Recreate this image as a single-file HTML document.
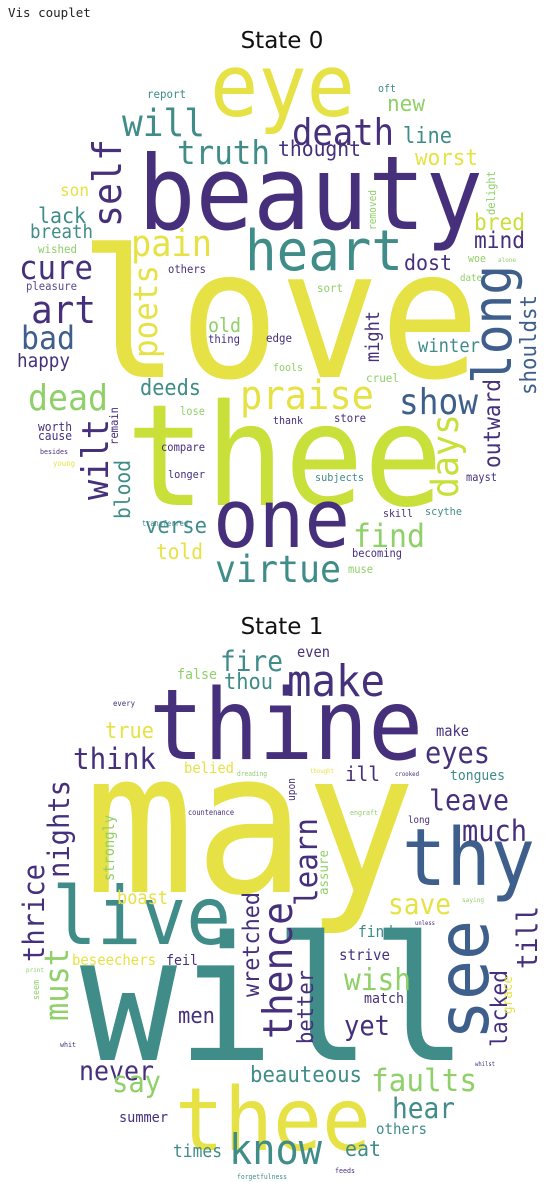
<!DOCTYPE html>
<html><head><meta charset="utf-8">
<style>
html,body{margin:0;padding:0;background:#fff;}
body{width:546px;height:1182px;overflow:hidden;position:relative;}
.hdr{position:absolute;left:8px;top:5px;font-family:"DejaVu Sans Mono","Liberation Mono",monospace;font-size:12.5px;color:#222;}
svg{position:absolute;left:0;top:0;}
</style></head>
<body>
<div class="hdr">Vis couplet</div>
<svg id="svg" width="546" height="1182" viewBox="0 0 546 1182">
<text x="282" y="48" text-anchor="middle" font-family="DejaVu Sans, sans-serif" font-size="23" fill="#111">State 0</text>
<text x="282" y="634" text-anchor="middle" font-family="DejaVu Sans, sans-serif" font-size="23" fill="#111">State 1</text>
<g id="c0"></g>
<g id="c1"></g>
</svg>
<script>
const palette = {Y:'#e6e245',L:'#c9df3a',G:'#8fd068',T:'#3f8c89',P:'#46307c',B:'#3e5f8c',D:'#5a4a8c'};
// [word, colour, x, y, length, rotated]  horizontal: x=left,y=baseline ; rotated: x=baseline,y=bottom
const cloud0 = [
['love','Y',79,377,401,0],['beauty','P',138,229,345,0],['eye','Y',210,116,145,0],
['thee','L',126,505,317,0],['one','P',213,547,137,0],['virtue','T',215,582,126,0],
['heart','T',245,270,158,0],['death','P',292,145,102,0],['will','T',122,136,83,0],
['truth','T',177,164,93,0],['thought','P',278,156,83,0],['new','G',387,111,38,0],
['line','T',403,143,49,0],['worst','Y',415,165,63,0],['oft','T',378,92,18,0],
['report','T',147,98,39,0],['self','P',121,227,88,1],['son','Y',60,196,29,0],
['lack','T',38,223,48,0],['breath','T',30,238,63,0],['pain','Y',131,256,81,0],
['cure','P',19,279,74,0],['art','P',31,323,65,0],['bad','B',21,349,54,0],
['happy','P',17,367,53,0],['pleasure','D',26,290,51,0],['poets','Y',157,358,93,1],
['dead','G',28,410,80,0],['wilt','P',108,500,81,1],['deeds','T',140,395,61,0],
['old','G',208,332,33,0],['thing','P',208,343,32,0],['edge','P',266,342,26,0],
['praise','Y',240,409,134,0],['show','B',399,414,79,0],['might','P',379,362,51,1],
['winter','T',418,352,62,0],['long','B',511,384,119,1],['shouldst','B',536,395,100,1],
['outward','P',500,468,89,1],['days','L',458,498,84,1],['dost','P',404,270,48,0],
['mind','P',474,248,51,0],['bred','L',474,230,51,0],['delight','G',495,215,44,1],
['blood','T',130,519,59,1],['verse','T',145,533,62,0],['told','Y',156,559,47,0],
['find','G',353,547,72,0],['skill','P',383,517,30,0],['scythe','T',425,515,37,0],
['becoming','P',352,557,50,0],['subjects','T',315,481,49,0],['longer','P',168,478,37,0],
['compare','P',161,451,44,0],['worth','P',38,431,34,0],['cause','P',38,440,34,0],
['fools','G',273,371,30,0],['cruel','G',366,382,33,0],['thank','P',273,424,30,0],
['store','P',334,422,32,0],['lose','G',180,415,25,0],['others','P',168,273,38,0],
['sort','G',317,292,26,0],['mayst','P',466,481,31,0],['wished','G',38,253,39,0],
['muse','G',348,573,25,0],['removed','G',376,230,40,1],['date','G',460,281,22,0],
['woe','G',468,262,18,0],['alone','G',498,262,18,0],['remain','P',118,445,38,1],
['young','Y',53,466,22,0],['besides','P',40,454,28,0],['transferred','T',142,526,46,0]
];
const cloud1 = [
['may','Y',84,892,332,0],['thine','P',149,759,274,0],['will','T',80,1060,388,0],
['thee','Y',175,1150,196,0],['thy','B',402,885,133,0],['see','B',488,1040,120,1],
['live','T',52,944,179,0],['know','T',229,1164,93,0],['fire','T',220,671,63,0],
['even','P',297,657,33,0],['make','P',287,696,98,0],['thou','T',224,689,49,0],
['false','G',177,679,40,0],['true','Y',105,738,49,0],['think','P',73,769,83,0],
['eyes','P',425,763,65,0],['belied','Y',184,773,50,0],['ill','P',345,781,35,0],
['tongues','T',450,780,55,0],['make','P',436,736,33,0],['leave','P',429,810,80,0],
['long','P',408,823,22,0],['much','P',462,841,65,0],['nights','P',69,878,98,1],
['thrice','P',44,962,98,1],['strongly','G',114,881,66,1],['learn','P',317,906,88,1],
['upon','P',295,801,23,1],['boast','Y',117,904,51,0],['save','Y',388,914,63,0],
['find','T',358,937,35,0],['strive','P',339,960,51,0],['till','P',537,969,63,1],
['thence','P',292,1039,137,1],['wretched','P',259,997,105,1],['must','G',68,1021,73,1],
['beseechers','Y',72,965,84,0],['feil','P',166,965,32,0],['wish','G',344,990,67,0],
['match','P',364,1003,40,0],['better','P',313,1044,74,1],['men','P',178,1023,37,0],
['yet','P',344,1035,46,0],['lacked','P',507,1047,77,1],['grace','Y',512,1014,38,1],
['never','P',79,1080,75,0],['beauteous','T',250,1082,112,0],['faults','G',371,1091,106,0],
['say','G',112,1092,49,0],['hear','T',392,1118,63,0],['summer','P',119,1122,49,0],
['others','T',376,1134,51,0],['times','T',173,1157,49,0],['eat','T',345,1156,36,0],
['assure','G',328,895,45,1],['countenance','P',188,815,46,0],['engraft','G',350,815,28,0],
['thought','Y',310,773,24,0],['dreading','G',237,776,30,0],['crooked','P',395,776,24,0],
['every','P',113,706,22,0],['feeds','P',335,1173,20,0],['forgetfulness','T',237,1179,50,0],
['unless','P',415,925,20,0],['saying','G',462,902,22,0],['whilst','P',475,1066,20,0],
['whit','P',60,1047,16,0],['seem','G',39,1000,20,1],['print','G',26,972,18,0]
];
function draw(gid, arr){
  const g = document.getElementById(gid);
  arr.forEach(function(w){
    const t = document.createElementNS('http://www.w3.org/2000/svg','text');
    const size = w[4]/(0.6*w[0].length)*1.07;
    t.setAttribute('font-family','DejaVu Sans Mono, Liberation Mono, monospace');
    t.setAttribute('font-size', size.toFixed(1));
    t.setAttribute('fill', palette[w[1]]);
    t.setAttribute('textLength', w[4]);
    t.setAttribute('lengthAdjust','spacingAndGlyphs');
    if(w[5]){
      t.setAttribute('transform','translate('+w[2]+','+w[3]+') rotate(-90)');
      t.setAttribute('x',0); t.setAttribute('y',0);
    } else {
      t.setAttribute('x',w[2]); t.setAttribute('y',w[3]);
    }
    t.textContent = w[0];
    
    
    g.appendChild(t);
  });
}
draw('c0', cloud0);
draw('c1', cloud1);
</script>
</body></html>
